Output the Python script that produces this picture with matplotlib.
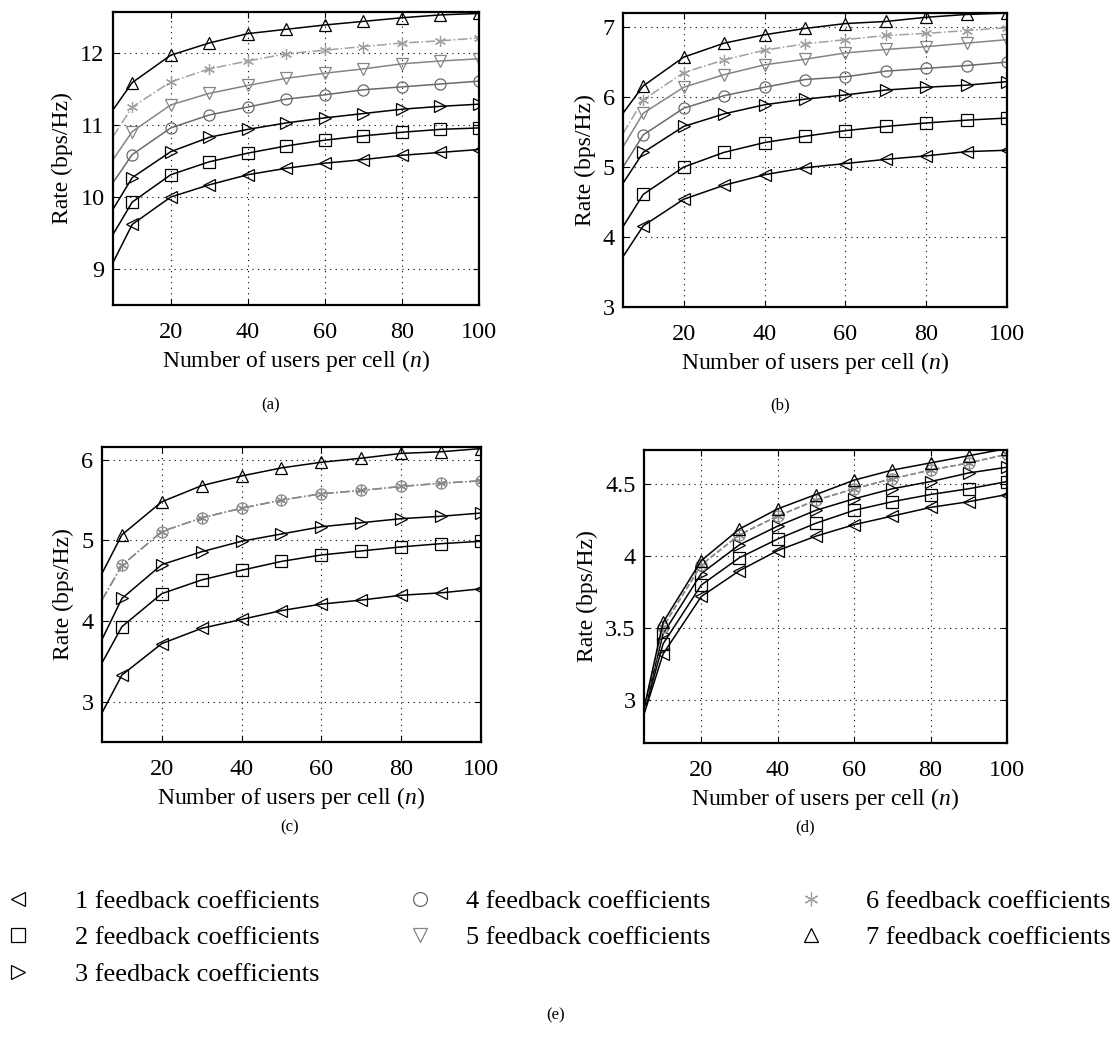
import matplotlib
matplotlib.use("Agg")
import matplotlib.pyplot as plt
from matplotlib.lines import Line2D

plt.rcParams['font.family'] = ['Liberation Serif', 'DejaVu Serif']
plt.rcParams['mathtext.fontset'] = 'custom'
plt.rcParams['mathtext.rm'] = 'Liberation Serif'
plt.rcParams['mathtext.it'] = 'Liberation Serif:italic'

# x positions: curve start and marker positions
n_start = 5
n_marks = [10, 20, 30, 40, 50, 60, 70, 80, 90, 100]

labels = [f"{k} feedback coefficients" for k in range(1, 8)]

# panel (a): value at n=5, then values at n_marks (series 1..7)
start_a = [9.09, 9.48, 9.83, 10.2, 10.52, 10.84, 11.21]
rates_a = [
    [9.62, 10.0, 10.17, 10.31, 10.40, 10.47, 10.52, 10.58, 10.62, 10.66],
    [9.93, 10.31, 10.49, 10.61, 10.71, 10.79, 10.85, 10.90, 10.94, 10.96],
    [10.27, 10.63, 10.83, 10.94, 11.03, 11.10, 11.16, 11.22, 11.26, 11.29],
    [10.59, 10.96, 11.14, 11.25, 11.36, 11.42, 11.49, 11.53, 11.57, 11.61],
    [10.91, 11.28, 11.44, 11.55, 11.65, 11.72, 11.78, 11.85, 11.89, 11.92],
    [11.25, 11.60, 11.78, 11.89, 11.99, 12.04, 12.09, 12.14, 12.17, 12.21],
    [11.59, 11.97, 12.14, 12.27, 12.33, 12.39, 12.44, 12.49, 12.53, 12.55],
]

# panel (b)
start_b = [3.72, 4.15, 4.77, 5.0, 5.29, 5.48, 5.77]
rates_b = [
    [4.16, 4.54, 4.74, 4.89, 4.99, 5.05, 5.11, 5.16, 5.22, 5.24],
    [4.61, 5.0, 5.21, 5.35, 5.44, 5.52, 5.58, 5.63, 5.67, 5.70],
    [5.21, 5.58, 5.76, 5.89, 5.97, 6.03, 6.10, 6.14, 6.17, 6.22],
    [5.46, 5.84, 6.02, 6.14, 6.25, 6.29, 6.37, 6.41, 6.45, 6.50],
    [5.77, 6.14, 6.32, 6.46, 6.54, 6.63, 6.68, 6.72, 6.77, 6.82],
    [5.96, 6.35, 6.53, 6.67, 6.76, 6.82, 6.88, 6.91, 6.95, 6.99],
    [6.16, 6.57, 6.77, 6.89, 6.98, 7.05, 7.08, 7.14, 7.18, 7.20],
]

# panel (c): series 4 and 6 coincide, series 5 not shown
start_c = [2.86, 3.48, 3.77, 4.26, None, 4.26, 4.59]
rates_c = [
    [3.33, 3.72, 3.91, 4.02, 4.13, 4.21, 4.26, 4.32, 4.35, 4.40],
    [3.93, 4.34, 4.51, 4.63, 4.74, 4.82, 4.87, 4.92, 4.96, 4.99],
    [4.28, 4.70, 4.86, 4.99, 5.08, 5.17, 5.22, 5.27, 5.30, 5.34],
    [4.69, 5.11, 5.28, 5.40, 5.50, 5.58, 5.62, 5.67, 5.71, 5.74],
    None,
    [4.69, 5.11, 5.28, 5.40, 5.50, 5.58, 5.62, 5.67, 5.71, 5.74],
    [5.07, 5.48, 5.68, 5.80, 5.90, 5.97, 6.02, 6.08, 6.10, 6.14],
]

# panel (d): series 4 and 6 coincide, series 5 not shown
start_d = [2.90, 2.91, 2.92, 2.93, None, 2.93, 2.94]
rates_d = [
    [3.32, 3.72, 3.90, 4.04, 4.14, 4.22, 4.28, 4.34, 4.38, 4.43],
    [3.39, 3.80, 3.99, 4.12, 4.23, 4.32, 4.38, 4.43, 4.47, 4.52],
    [3.46, 3.88, 4.08, 4.21, 4.32, 4.40, 4.47, 4.52, 4.58, 4.62],
    [3.51, 3.94, 4.15, 4.28, 4.39, 4.47, 4.54, 4.60, 4.65, 4.71],
    None,
    [3.51, 3.94, 4.15, 4.28, 4.39, 4.47, 4.54, 4.60, 4.65, 4.71],
    [3.54, 3.97, 4.19, 4.33, 4.43, 4.53, 4.60, 4.65, 4.70, 4.75],
]

# styles per series
markers = ['<', 's', '>', 'o', 'v', (6, 2, 0), '^']
colors = ['black', 'black', 'black', '#6a6a6a', '#858585', '#a0a0a0', 'black']
styles = ['-', '-', '-', '-', '-', '-.', '-']

panels = [
    ([0.1015, 0.7081, 0.3288, 0.2804], start_a, rates_a, (8.5, 12.57), [9, 10, 11, 12], '(a)', (0.2435, 0.612)),
    ([0.5598, 0.7062, 0.3450, 0.2813], start_b, rates_b, (3, 7.2), [3, 4, 5, 6, 7], '(b)', (0.7008, 0.612)),
    ([0.0916, 0.2900, 0.3405, 0.2823], start_c, rates_c, (2.5, 6.16), [3, 4, 5, 6], '(c)', (0.2606, 0.208)),
    ([0.5786, 0.2890, 0.3261, 0.2804], start_d, rates_d, (2.7, 4.74), [3, 3.5, 4, 4.5], '(d)', (0.7233, 0.208)),
]

fig = plt.figure(figsize=(11.13, 10.45), dpi=100)

for rect, starts, rates, ylim, yticks, tag, tagpos in panels:
    ax = fig.add_axes(rect)
    for i in range(7):
        if rates[i] is None:
            continue
        c = colors[i]
        ls = styles[i]
        if i in (3, 5) and tag in ('(c)', '(d)'):
            c = '#8a8a8a'
            ls = '-.' if tag == '(c)' else '--'
        ax.plot([n_start] + n_marks, [starts[i]] + rates[i], color=c, ls=ls, lw=1.1,
                marker=markers[i], markevery=list(range(1, 11)), ms=8,
                mfc='none', mec=c, mew=0.9)
    ax.set_xlim(5, 100)
    ax.set_ylim(*ylim)
    ax.set_xticks([20, 40, 60, 80, 100])
    ax.set_yticks(yticks)
    ax.set_yticklabels([f"{t:g}" for t in yticks])
    ax.grid(True, ls=(0, (1, 4)), color='black', lw=0.8)
    ax.tick_params(direction='in', top=True, right=True, labelsize=17.5, length=4)
    ax.tick_params(axis='x', pad=12)
    ax.tick_params(axis='y', pad=6)
    for s in ax.spines.values():
        s.set_linewidth(1.6)
    ax.set_xlabel("Number of users per cell ($n$)", fontsize=17, labelpad=4)
    ax.set_ylabel("Rate (bps/Hz)", fontsize=17, labelpad=5)
    fig.text(tagpos[0], tagpos[1], tag, fontsize=12, ha='center', va='center')

# legend rows (e), laid out in three groups like the figure
groups = [[0, 1, 2], [3, 4], [5, 6]]
anchors = [0.0043, 0.3655, 0.7168]
pads = [1.66, 1.24, 1.58]
for grp, xa, pad in zip(groups, anchors, pads):
    handles = [Line2D([], [], ls='none', marker=markers[i], ms=10, mfc='none',
                      mec=colors[i], mew=0.9) for i in grp]
    leg = fig.legend(handles, [labels[i] for i in grp], loc='upper left',
                     bbox_to_anchor=(xa, 0.149), frameon=False, fontsize=19,
                     handlelength=1.0, handletextpad=pad, labelspacing=0.5,
                     borderpad=0, borderaxespad=0)

fig.text(0.4996, 0.0287, '(e)', fontsize=12, ha='center', va='center')

fig.savefig("out.png", dpi=100)
